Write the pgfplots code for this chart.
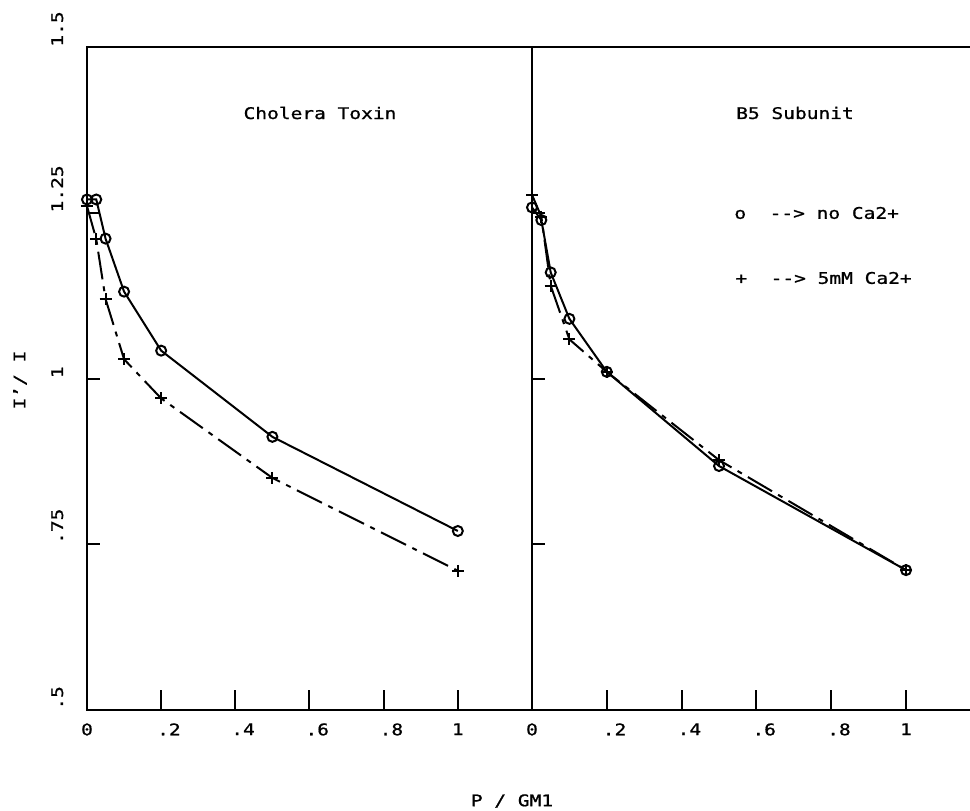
\documentclass[border=0pt]{standalone}
\usepackage{pgfplots}
\pgfplotsset{compat=1.18}
\usepackage{fontspec}
\setmainfont{DejaVu Sans Mono}[FakeStretch=1.22, FakeBold=1]
\newcommand{\dl}[1]{\makebox[0pt][l]{\kern-2pt #1}}
\begin{document}
\fontsize{8pt}{10pt}\selectfont
\begin{tikzpicture}
\useasboundingbox (0,0) rectangle (485pt,405pt);
\pgfplotsset{
  panel/.style={
    scale only axis, anchor=south west, height=331.5pt,
    ymin=0.5, ymax=1.5, clip=false,
    axis line style={draw=none},
    tick align=inside, xtick pos=bottom, ytick pos=left,
    xtick={0,0.2,0.4,0.6,0.8,1},
    xticklabels={0,\dl{.2},\dl{.4},\dl{.6},\dl{.8},1},
    xtick style={/pgfplots/major tick length=10pt, line width=1pt, black},
    ytick style={/pgfplots/major tick length=6.5pt, line width=1pt, black},
    xticklabel style={anchor=north, inner sep=0pt, yshift=-6.5pt},
    font=\fontsize{8pt}{10pt}\selectfont,
  },
  solidser/.style={black, line width=1pt, mark=o, mark size=2.5pt, mark options={solid, line width=1pt}},
  dashser/.style={black, line width=1pt, dash pattern=on 14pt off 3.5pt on 2.5pt off 3.5pt, mark=+, mark size=3pt, mark options={solid, line width=1pt}},
}
\begin{axis}[panel, at={(43.5pt,50pt)}, width=222.5pt, xmin=0, xmax=1.2,
  ytick={0.5,0.75,1,1.25,1.5},
  yticklabels={.5,.75,1,1.25,1.5},
  yticklabel style={rotate=90, anchor=base west, inner sep=0pt, yshift=12pt},
]
\draw[line width=1.2pt] (axis cs:1.2,1.5) -- (axis cs:0,1.5) -- (axis cs:0,0.5) -- (axis cs:1.2,0.5);
\addplot[solidser] coordinates {(0,1.270) (0.025,1.270) (0.05,1.211) (0.1,1.131) (0.2,1.042) (0.5,0.912) (1,0.770)};
\addplot[dashser] coordinates {(0,1.26) (0.025,1.210) (0.05,1.120) (0.1,1.029) (0.2,0.970) (0.5,0.850) (1,0.710)};
\end{axis}
\begin{axis}[panel, at={(266pt,50pt)}, width=219pt, xmin=0, xmax=1.171,
  ytick={0.75,1,1.25}, yticklabels={},
]
\draw[line width=1.2pt] (axis cs:1.171,1.5) -- (axis cs:0,1.5) -- (axis cs:0,0.5) -- (axis cs:1.171,0.5);
\addplot[solidser] coordinates {(0,1.258) (0.025,1.239) (0.05,1.160) (0.1,1.090) (0.2,1.010) (0.5,0.868) (1,0.711)};
\addplot[dashser] coordinates {(0,1.277) (0.025,1.244) (0.05,1.140) (0.1,1.059) (0.2,1.010) (0.5,0.877) (1,0.711)};
\end{axis}
\node at (160pt,348.5pt) {Cholera Toxin};
\node at (397.5pt,348.5pt) {B5 Subunit};
\node[anchor=west, inner sep=0pt] at (367pt,298.5pt) {o\ \ -{}-{}> no Ca2+};
\node[anchor=west, inner sep=0pt] at (367.5pt,266pt) {+\ \ -{}-{}> 5mM Ca2+};
\node[rotate=90] at (10pt,215pt) {I'/ I};
\node at (256pt,4.5pt) {P / GM1};
\end{tikzpicture}
\end{document}
